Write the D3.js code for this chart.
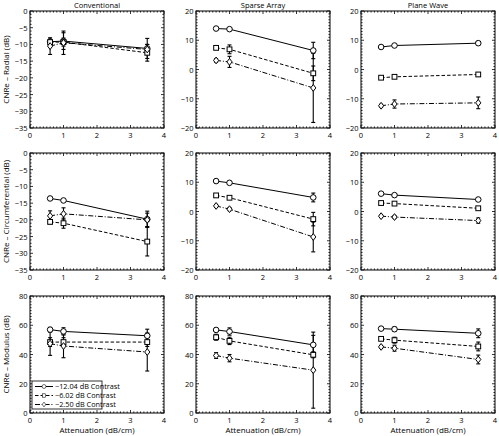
<!DOCTYPE html>
<html><head><meta charset="utf-8">
<script src="https://cdn.jsdelivr.net/npm/d3@7"></script>
<style>body{margin:0;background:#fff}svg{display:block}text{font-family:"Open Sans","DejaVu Sans",sans-serif}</style>
</head><body><svg id="c" width="499" height="436"></svg>
<script>
// ---- data ----
const methods = ["Conventional", "Sparse Array", "Plane Wave"];
const metrics = ["Radial", "Circumferential", "Modulus"];
const attenuation = [0.6, 1.0, 3.5];
const contrasts = ["\u221212.04 dB Contrast", "\u22126.02 dB Contrast", "\u22122.50 dB Contrast"];
const xTicks = [0, 1, 2, 3, 4];
const yTicksConv = [0, -5, -10, -15, -20, -25, -30, -35];
const yTicksSigned = [20, 10, 0, -10, -20];
const yTicksMod = [0, 20, 40, 60, 80];

// each panel: [series -12.04, -6.02, -2.50] means and error half-widths
const convRadial      = [[-9.2, -9.0, -11.2], [-9.3, -9.3, -12.5], [-10.5, -9.5, -11.5]];
const convRadialErr   = [[0.8, 2.5, 3.0], [0.8, 1.2, 2.5], [2.5, 3.5, 1.5]];
const convCirc        = [[-13.6, -14.2, -19.8], [-20.6, -21.0, -26.5], [-18.8, -18.2, -20.0]];
const convCircErr     = [[0.4, 0.4, 2.4], [0.6, 1.5, 4.3], [1.5, 1.8, 2.0]];
const convMod         = [[57.0, 55.8, 52.8], [48.5, 48.5, 48.5], [47.4, 45.8, 41.7]];
const convModErr      = [[1.5, 2.5, 4.5], [3.0, 3.0, 3.0], [8.0, 8.0, 13.0]];
const sparseRadial    = [[14.0, 13.8, 6.5], [7.4, 6.9, -1.3], [3.1, 2.6, -6.3]];
const sparseRadialErr = [[0.3, 0.4, 2.8], [0.4, 1.5, 2.5], [0.6, 1.9, 11.8]];
const sparseCirc      = [[10.4, 9.8, 4.8], [5.5, 4.7, -2.6], [1.9, 0.8, -8.7]];
const sparseCircErr   = [[0.3, 0.3, 1.5], [0.3, 0.3, 2.3], [0.5, 0.5, 5.1]];
const sparseMod       = [[56.8, 55.7, 46.6], [51.8, 49.3, 39.8], [39.3, 37.5, 29.3]];
const sparseModErr    = [[1.0, 2.5, 6.5], [2.0, 2.5, 2.0], [2.0, 2.5, 26.0]];
const planeRadial     = [[7.7, 8.2, 9.0], [-2.8, -2.5, -1.7], [-12.4, -11.8, -11.4]];
const planeRadialErr  = [[0.3, 0.3, 0.6], [0.3, 0.3, 0.6], [0.5, 1.4, 2.0]];
const planeCirc       = [[6.1, 5.6, 4.1], [2.9, 2.7, 1.1], [-1.6, -1.9, -3.1]];
const planeCircErr    = [[0.3, 0.3, 0.4], [0.3, 0.3, 0.4], [0.4, 0.5, 0.9]];
const planeMod        = [[57.7, 57.3, 54.5], [50.7, 49.8, 45.5], [45.2, 44.3, 36.6]];
const planeModErr     = [[1.0, 1.5, 3.0], [1.0, 2.0, 3.0], [1.0, 2.0, 3.0]];

// ---- layout ----
const colX = [30, 196, 361], rowY = [11, 153, 296], W = 134, H = 117;
const svg = d3.select("#c");
const dashes = [null, "3.5,2", "5,1.8,1,1.8"];
const fmt = v => (v < 0 ? "\u2212" + Math.abs(v) : "" + v);

const panels = [
  [[convRadial, convRadialErr, [-35, 0], yTicksConv, 1], [sparseRadial, sparseRadialErr, [-20, 20], yTicksSigned, 1], [planeRadial, planeRadialErr, [-20, 20], yTicksSigned, 1]],
  [[convCirc, convCircErr, [-35, 0], yTicksConv, 1], [sparseCirc, sparseCircErr, [-20, 20], yTicksSigned, 1], [planeCirc, planeCircErr, [-20, 20], yTicksSigned, 1]],
  [[convMod, convModErr, [0, 80], yTicksMod, 2], [sparseMod, sparseModErr, [0, 80], yTicksMod, 2], [planeMod, planeModErr, [0, 80], yTicksMod, 2]]
];

function marker(g, shape, x, y) {
  if (shape === 0) g.append("circle").attr("cx", x).attr("cy", y).attr("r", 2.8);
  else if (shape === 1) g.append("rect").attr("x", x - 2.4).attr("y", y - 2.4).attr("width", 4.8).attr("height", 4.8);
  else g.append("path").attr("d", `M${x},${y - 3.4}L${x + 2.6},${y}L${x},${y + 3.4}L${x - 2.6},${y}Z`);
}

panels.forEach((row, r) => row.forEach((p, c) => {
  const [means, errs, dom, yt, minorStep] = p;
  const x = d3.scaleLinear().domain([0, 4]).range([colX[c], colX[c] + W]);
  const y = d3.scaleLinear().domain(dom).range([rowY[r] + H, rowY[r]]);
  const g = svg.append("g");
  const x0 = colX[c], x1 = colX[c] + W, y0 = rowY[r], y1 = rowY[r] + H;

  // minor ticks
  const xm = d3.range(0, 4.0001, 0.1), ym = d3.range(dom[0], dom[1] + 0.001, minorStep);
  xm.forEach(v => {
    const major = Math.abs(v - Math.round(v)) < 1e-6; const L = major ? 3 : 1.6;
    g.append("line").attr("x1", x(v)).attr("x2", x(v)).attr("y1", y1).attr("y2", y1 - L).attr("stroke", "#000").attr("stroke-width", 0.8);
    g.append("line").attr("x1", x(v)).attr("x2", x(v)).attr("y1", y0).attr("y2", y0 + L).attr("stroke", "#000").attr("stroke-width", 0.8);
  });
  ym.forEach(v => {
    const major = yt.some(t => Math.abs(t - v) < 1e-6); const L = major ? 3 : 1.6;
    g.append("line").attr("y1", y(v)).attr("y2", y(v)).attr("x1", x0).attr("x2", x0 + L).attr("stroke", "#000").attr("stroke-width", 0.8);
    g.append("line").attr("y1", y(v)).attr("y2", y(v)).attr("x1", x1).attr("x2", x1 - L).attr("stroke", "#000").attr("stroke-width", 0.8);
  });
  g.append("rect").attr("x", x0).attr("y", y0).attr("width", W).attr("height", H).attr("fill", "none").attr("stroke", "#000").attr("stroke-width", 1);

  // tick labels
  xTicks.forEach(v => g.append("text").attr("x", x(v)).attr("y", y1 + 9.5).attr("text-anchor", "middle").attr("font-size", 7.5).text(v));
  yt.forEach(v => g.append("text").attr("x", x0 - 2.5).attr("y", y(v) + 3).attr("text-anchor", "end").attr("font-size", 7.5).text(fmt(v)));

  // series lines
  const line = d3.line().x((d, i) => x(attenuation[i])).y(d => y(d));
  means.forEach((s, k) => {
    g.append("path").attr("d", line(s)).attr("fill", "none").attr("stroke", "#000").attr("stroke-width", 1)
      .attr("stroke-dasharray", dashes[k]);
  });
  // error bars
  means.forEach((s, k) => s.forEach((v, i) => {
    const e = errs[k][i], xx = x(attenuation[i]);
    g.append("line").attr("x1", xx).attr("x2", xx).attr("y1", y(v - e)).attr("y2", y(v + e)).attr("stroke", "#000").attr("stroke-width", 1.1);
    [v - e, v + e].forEach(w => g.append("line").attr("x1", xx - 2).attr("x2", xx + 2).attr("y1", y(w)).attr("y2", y(w)).attr("stroke", "#000").attr("stroke-width", 1.1));
  }));
  // markers
  const mg = g.append("g").attr("fill", "#fff").attr("stroke", "#000").attr("stroke-width", 1);
  means.forEach((s, k) => s.forEach((v, i) => marker(mg, k, x(attenuation[i]), y(v))));

  if (r === 0) g.append("text").attr("x", (x0 + x1) / 2).attr("y", 8).attr("text-anchor", "middle").attr("font-size", 7.5).text(methods[c]);
  if (r === 2) g.append("text").attr("x", (x0 + x1) / 2).attr("y", 432.5).attr("text-anchor", "middle").attr("font-size", 8).text("Attenuation (dB/cm)");
  if (c === 0) g.append("text").attr("transform", `translate(9,${(y0 + y1) / 2}) rotate(-90)`).attr("text-anchor", "middle").attr("font-size", 8).text("CNRe \u2013 " + metrics[r] + " (dB)");

  // legend
  if (r === 2 && c === 0) {
    const lg = svg.append("g");
    lg.append("rect").attr("x", 32).attr("y", 381).attr("width", 70).attr("height", 28).attr("fill", "#fff").attr("stroke", "#000").attr("stroke-width", 0.8);
    contrasts.forEach((t, k) => {
      const yy = 386.5 + k * 9;
      lg.append("line").attr("x1", 35).attr("x2", 53).attr("y1", yy).attr("y2", yy).attr("stroke", "#000").attr("stroke-width", 1).attr("stroke-dasharray", dashes[k]);
      const m = lg.append("g").attr("fill", "#fff").attr("stroke", "#000").attr("stroke-width", 0.8).attr("transform", `translate(44,${yy}) scale(0.7) translate(-44,${-yy})`);
      marker(m, k, 44, yy);
      lg.append("text").attr("x", 55).attr("y", yy + 2.8).attr("font-size", 7.3).text(t);
    });
  }
}));
</script></body></html>
